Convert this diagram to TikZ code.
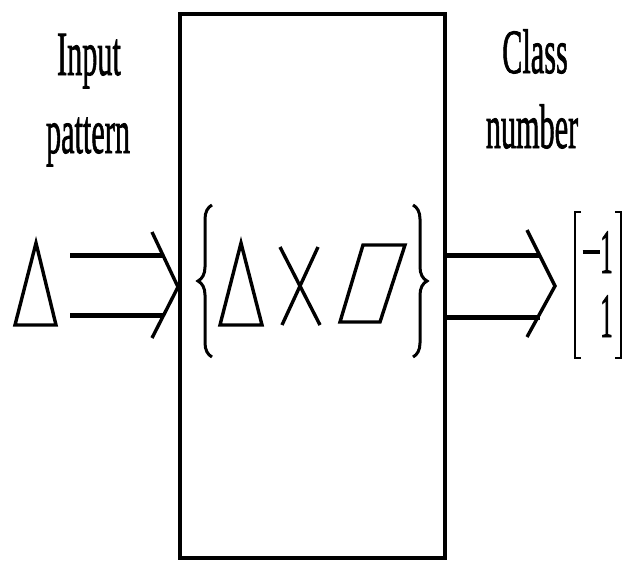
\documentclass[tikz,border=0pt]{standalone}
\usepackage{fontspec}
\setmainfont[FakeBold=1.5,AutoFakeBold=1.5]{Liberation Serif}
\usepackage{graphicx}
\usetikzlibrary{decorations.pathreplacing,positioning}

\newcommand{\narrowtext}[2][0.48]{\scalebox{#1}[1]{#2}}
\tikzset{
  captiontext/.style={inner sep=0pt,anchor=base,font=\fontsize{63}{63}\selectfont\bfseries},
  glyphline/.style={line width=3.4pt,line join=miter},
  arrowline/.style={line width=5pt},
  bracepath/.style={line width=3pt,decorate,decoration={brace,amplitude=14pt}},
}

\begin{document}
\begin{tikzpicture}[x=1pt,y=-1pt]
\useasboundingbox (0,0) rectangle (623,562);
% the classifier box
\node[draw,line width=4pt,minimum width=265pt,minimum height=544pt,inner sep=0pt] (classifier) at (312.5,286) {};
% captions
\node[captiontext] (input) at (89,75) {\narrowtext{Input}};
\node[captiontext] (pattern) at (88,153) {\narrowtext{pattern}};
\node[captiontext] (class) at (535,73) {\narrowtext{Class}};
\node[captiontext] (number) at (532,148) {\narrowtext{number}};
% input triangle
\draw[glyphline] (15,325) -- (36,243) -- (56,325) -- cycle;
% double arrow into the box
\coordinate (intip) at (classifier.west |- 0,287);
\foreach \y in {255,315} \draw[arrowline] (70,\y) -- (163,\y);
\draw[glyphline] (152,232) -- (intip) -- (152,338);
% set of classes inside the box
\draw[bracepath] (212,357) -- (212,205);
\draw[glyphline] (220,325) -- (241,243) -- (262,325) -- cycle;
\draw[glyphline] (280,247) -- (320,325);
\draw[glyphline] (318,247) -- (282,325);
\draw[glyphline] (340,322) -- (380,322) -- (405,245) -- (363,245) -- cycle;
\draw[bracepath] (413,205) -- (413,357);
% double arrow out of the box
\coordinate (outtip) at (555,286);
\foreach \y in {255,317} \draw[arrowline] (classifier.east |- 0,\y) -- (540,\y);
\draw[glyphline] (527,230) -- (outtip) -- (527,337);
% class number vector
\draw[line width=2.8pt] (581,212) -- (575,212) -- (575,358) -- (581,358);
\draw[line width=2.8pt] (615,212) -- (621,212) -- (621,358) -- (615,358);
\node[captiontext,anchor=base east] (first) at (613,273) {\narrowtext[0.4]{\rule[0.3em]{0.7em}{0.07em}1}};
\node[captiontext,anchor=base east] (second) at (613,337) {\narrowtext[0.4]{1}};
\end{tikzpicture}
\end{document}
